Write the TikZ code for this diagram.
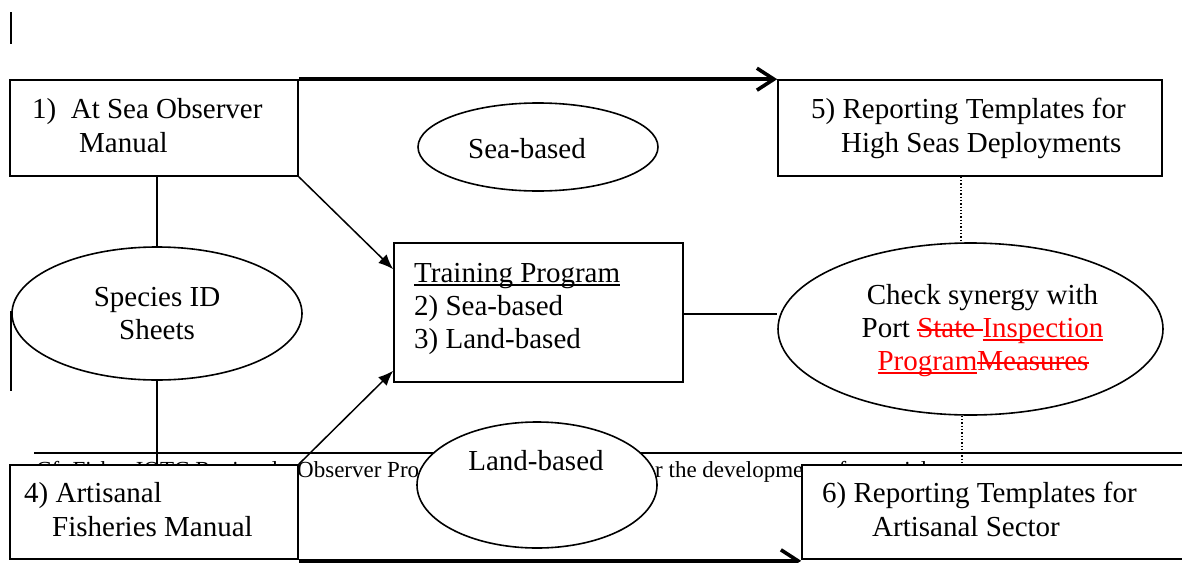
\documentclass[tikz,border=0pt]{standalone}
\usepackage{fontspec}
\setmainfont{Liberation Serif}
\usetikzlibrary{arrows.meta,shapes.geometric}
\newcommand\myul[1]{\setbox0\hbox{#1}\rlap{\rule[-3.5pt]{\wd0}{1.6pt}}\box0}
\newcommand\mystk[1]{\setbox0\hbox{#1}\rlap{\rule[6.5pt]{\wd0}{1.6pt}}\box0}
\begin{document}
\begin{tikzpicture}[x=1pt,y=-1pt,
  box/.style={draw, line width=1.6pt, fill=white, rectangle, inner sep=0pt},
  oval/.style={draw, line width=1.6pt, fill=white, ellipse, inner sep=0pt},
  txt/.style={font=\fontsize{29}{34}\selectfont, inner sep=0pt, anchor=base west},
  ctxt/.style={font=\fontsize{29}{34}\selectfont, inner sep=0pt, anchor=base},
  foot/.style={font=\fontsize{23}{27}\selectfont, inner sep=0pt, anchor=base west},
  conn/.style={line width=1.5pt},
  arr/.style={line width=1.5pt, -{Latex[length=15pt,width=12pt]}},
  heavy/.style={line width=3.6pt, -{Straight Barb[length=17pt,width=22pt,line width=3.6pt]}},
  dotline/.style={line width=1.3pt, dotted},
  bar/.style={line width=2.5pt}
]
\useasboundingbox (0,0) rectangle (1182,562);
\clip (0,0) rectangle (1182,562);

% margin bars
\draw[bar] (11,12) -- (11,44);
\draw[bar] (11,311) -- (11,391);

% footnote rule and text (partly covered)
\draw[line width=2pt] (34,453) -- (1182,453);
\node[foot] (fa) at (36,477) {Cf. Fisher IOTC Regional};
\node[foot] (fb) at (297,477) {Observer Prog};
\node[foot] (fc) at (655,477) {r the development of materials};

% shapes
\node[box, minimum width=288pt, minimum height=96pt] (b1) at (154,128) {};
\node[box, minimum width=384pt, minimum height=96pt] (b5) at (970,128) {};
\node[box, minimum width=289pt, minimum height=139pt] (tr) at (538.5,312.5) {};
\node[box, minimum width=288pt, minimum height=94pt] (b4) at (154,512) {};
\node[box, minimum width=388pt, minimum height=94pt] (b6) at (996,512) {};

\node[oval, minimum width=240pt, minimum height=88pt] (sea) at (538,147) {};
\node[oval, minimum width=290pt, minimum height=133pt] (sp) at (157,313.5) {};
\node[oval, minimum width=240pt, minimum height=126pt] (land) at (537,485) {};
\node[oval, minimum width=385pt, minimum height=172pt] (ck) at (970.5,329) {};

% texts
\node[txt] (t1a) at (32,118) {1)\ \ At Sea Observer};
\node[txt] (t1b) at (79,152) {Manual};
\node[txt] (t5a) at (811,118) {5) Reporting Templates for};
\node[txt] (t5b) at (841,152) {High Seas Deployments};
\node[ctxt] (tsea) at (527,158) {Sea-based};
\node[ctxt] (tspa) at (157,306) {Species ID};
\node[ctxt] (tspb) at (157,339) {Sheets};
\node[txt] (tra) at (414,282) {\myul{Training Program}};
\node[txt] (trb) at (414,315) {2) Sea-based};
\node[txt] (trc) at (414,348) {3) Land-based};
\node[ctxt] (cka) at (982.5,304) {Check synergy with};
\node[ctxt] (ckb) at (982.5,337) {Port \textcolor{red}{\mystk{State\ }\myul{Inspection}}};
\node[ctxt] (ckc) at (983,370) {\textcolor{red}{\myul{Program}\mystk{Measures}}};
\node[ctxt] (tland) at (536,470) {Land-based};
\node[txt] (t4a) at (24,502) {4) Artisanal};
\node[txt] (t4b) at (52,536) {Fisheries Manual};
\node[txt] (t6a) at (822,502) {6) Reporting Templates for};
\node[txt] (t6b) at (872,536) {Artisanal Sector};

% connectors
\draw[conn] (sp.north |- b1.south) -- (sp.north);
\draw[conn] (sp.south) -- (sp.south |- b4.north);
\draw[arr] (b1.south east) -- ([yshift=-27pt]tr.north west);
\draw[arr] (b4.north east) -- ([yshift=12pt]tr.south west);
\draw[conn] ([yshift=-1.5pt]tr.east) -- ([yshift=-1.5pt]tr.east -| ck.west);
\draw[dotline] ([xshift=-9pt]b5.south) -- ([xshift=-9pt]b5.south |- ck.north);
\draw[dotline] ([xshift=-8.5pt]ck.south) -- ([xshift=-8.5pt]ck.south |- b6.north);
\draw[heavy] (b1.north east) -- (b5.north west);
\draw[heavy] ([yshift=-1pt]b4.south east) -- ([yshift=-1pt]b6.south west);
\end{tikzpicture}
\end{document}
